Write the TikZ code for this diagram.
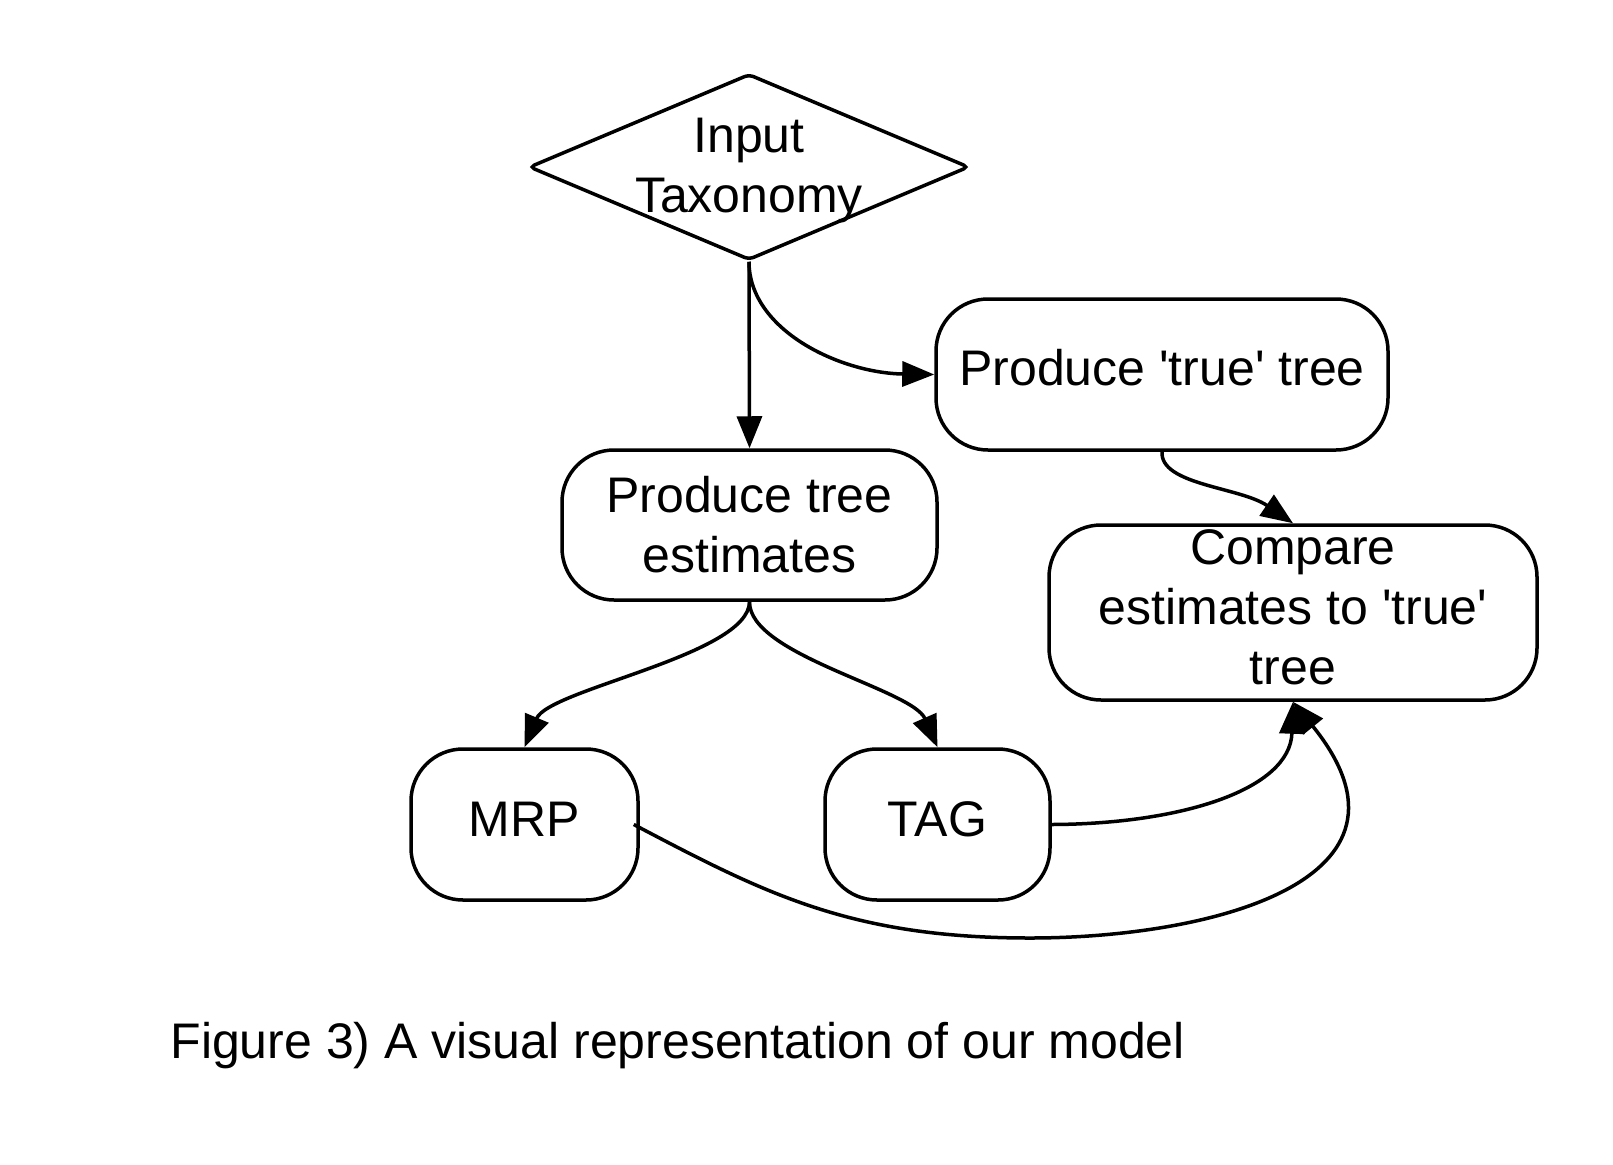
\documentclass[tikz,border=0pt]{standalone}
\usepackage{fontspec}
\setmainfont{Liberation Sans}
\usetikzlibrary{arrows.meta,shapes.geometric}
\begin{document}
\begin{tikzpicture}[x=1pt,y=-1pt,
  every node/.style={font=\fontsize{50}{60}\selectfont, align=center},
  box/.style={draw, line width=3.5pt, rounded corners=52pt, inner sep=0pt},
  link/.style={line width=3.5pt, -{Triangle[length=32pt,width=25pt]}},
]
\useasboundingbox (0,0) rectangle (1613,1164);
\fill[white] (0,0) rectangle (1613,1164);

\node[draw, diamond, line width=3.5pt, minimum width=440pt, minimum height=186pt,
      inner sep=0pt, rounded corners=5pt] (tax) at (749,167) {};
\node (taxtext) at (749,170) {Input\\Taxonomy};

\node[box, minimum width=452pt, minimum height=151pt] (truet) at (1162,374.5) {};
\node (truetext) at (1162,368) {Produce \textquotesingle true\textquotesingle{} tree};
\node[box, minimum width=375pt, minimum height=150pt] (est) at (749.5,525) {};
\node (esttext) at (749.5,525) {Produce tree\\estimates};
\node[box, minimum width=488pt, minimum height=175pt] (cmp) at (1293,612.5) {};
\node (cmptext) at (1293,607) {Compare\\estimates to \textquotesingle true\textquotesingle\\tree};
\node[box, minimum width=227pt, minimum height=151pt] (mrp) at (524.5,824.5) {};
\node (mrptext) at (524.5,819.5) {MRP};
\node[box, minimum width=225pt, minimum height=151pt] (tag) at (937.5,824.5) {};
\node (tagtext) at (937.5,819.5) {TAG};

\node[anchor=base west] (cap) at (167,1058) {Figure 3) A visual representation of our model};

\draw[link] (tax.south) -- (est.north);
\draw[link] (tax.south) .. controls (749,330) and (840,373) .. (truet.west);
\draw[link] (truet.south) .. controls (1160,485) and (1240,487) .. (cmp.north);
\draw[link] (est.south) .. controls (749,655) and (549,689) .. (mrp.north);
\draw[link] (est.south) .. controls (749,655) and (912,689) .. (tag.north);
\draw[link] (tag.east) .. controls (1180,824) and (1290,790) .. (cmp.south);
\draw[link] ([xshift=-6pt]mrp.east) .. controls (764,893) and (850,938) .. (1030,938)
   .. controls (1209,938) and (1438,881) .. (cmp.south);
\end{tikzpicture}
\end{document}
